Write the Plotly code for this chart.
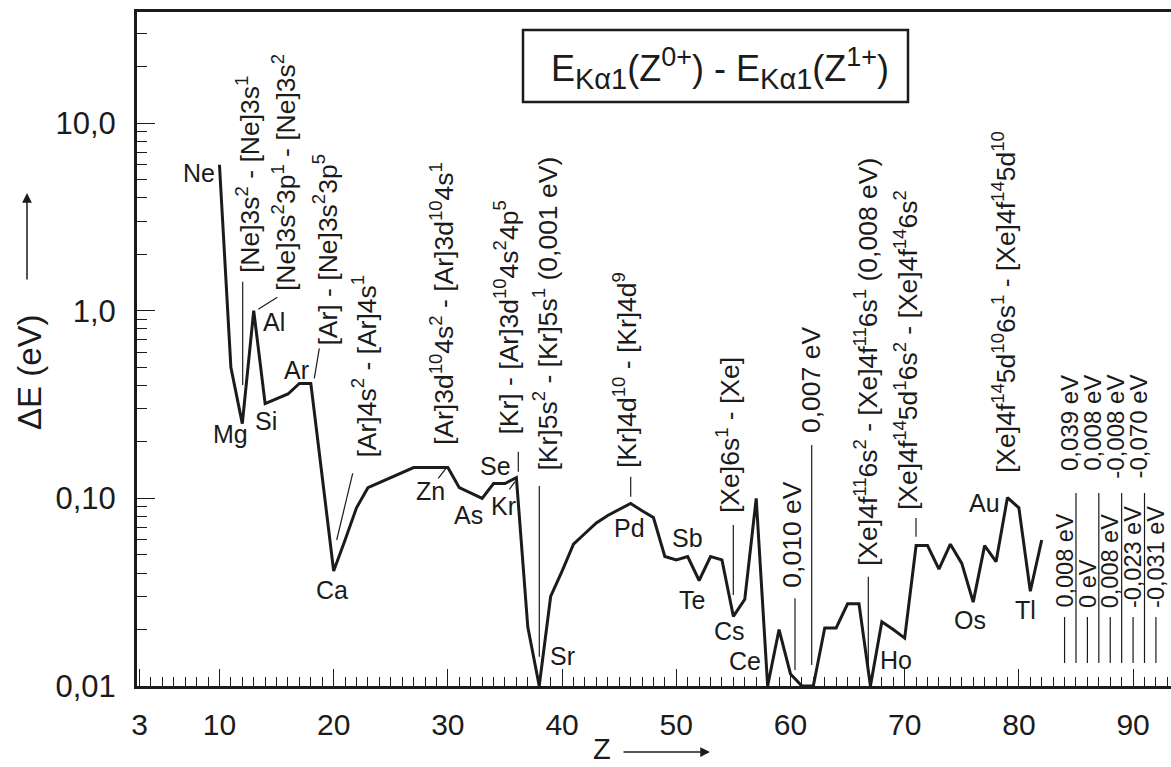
import numpy as np
import plotly.graph_objects as go

# ---------------------------------------------------------------- data
# atomic number and the K-alpha1 shift between neutral atom and 1+ ion (eV)
Z = list(range(10, 83))
dE_eV = [
    6.0, 0.50, 0.25, 1.0, 0.32, 0.34, 0.36, 0.41, 0.41, 0.13,            # 10-19
    0.041, 0.060, 0.089, 0.114, 0.121, 0.129, 0.137, 0.146, 0.146, 0.146,  # 20-29
    0.146, 0.114, 0.107, 0.100, 0.120, 0.120, 0.129, 0.0206, 0.001, 0.030,  # 30-39
    0.041, 0.057, 0.065, 0.074, 0.081, 0.087, 0.094, 0.086, 0.079, 0.049,  # 40-49
    0.047, 0.049, 0.0365, 0.049, 0.047, 0.0235, 0.029, 0.100, 0.010, 0.020,  # 50-59
    0.0116, 0.010, 0.007, 0.0204, 0.0204, 0.0274, 0.0274, 0.008, 0.022, 0.020,  # 60-69
    0.018, 0.056, 0.056, 0.042, 0.057, 0.045, 0.028, 0.056, 0.046, 0.101,  # 70-79
    0.089, 0.032, 0.060,                                                   # 80-82
]

# heavy elements listed only as numbers at the right-hand side
far_Z = [84, 85, 86, 87, 88, 89, 90, 91, 92]
far_dE_eV = [0.008, 0.039, 0.0, 0.008, 0.008, -0.008, -0.023, -0.070, -0.031]

y_tick_vals = [0.01, 0.1, 1.0, 10.0]
y_tick_text = ["0,01", "0,10", "1,0", "10,0"]
x_tick_vals = [3, 10, 20, 30, 40, 50, 60, 70, 80, 90]

Y_FLOOR = 0.01          # lower end of the log axis


def ev(v):
    return "0 eV" if v == 0 else f"{v:.3f}".replace(".", ",") + " eV"


def val(z):
    return dE_eV[Z.index(z)]


# ---------------------------------------------------------------- layout geometry (pixels)
W, H = 1171, 767
L, R, T, B = 137, 1171, 12, 686
X_RANGE = [2.78, 93.32]
Y_RANGE = [-2.0, 1.592]
INK = "#1b1b1b"
FONT = "Liberation Sans, Arial, Helvetica, sans-serif"


def px(x):
    return (x - L) / (R - L)


def py(y):
    return (B - y) / (B - T)


def zx(z):
    """pixel x of an atomic number"""
    return L + (z - X_RANGE[0]) / (X_RANGE[1] - X_RANGE[0]) * (R - L)


fig = go.Figure()
fig.add_trace(go.Scatter(
    x=Z, y=np.maximum(np.array(dE_eV), Y_FLOOR),
    mode="lines", line=dict(color=INK, width=3),
    hoverinfo="skip", showlegend=False,
))

annotations = []
shapes = []

# element symbols next to the curve
element_labels = ["Ne", "Mg", "Si", "Al", "Ar", "Ca", "Zn", "As", "Kr", "Se",
                  "Sr", "Pd", "Sb", "Te", "Cs", "Ce", "Ho", "Os", "Au", "Tl"]
element_label_xy = [(199, 173), (230.5, 434), (266, 420.5), (274, 321.7), (296.7, 370),
                    (331.7, 590), (430.5, 490.5), (468.7, 515.3), (503, 505.7), (495.3, 465.7),
                    (562.7, 655.8), (629, 528.3), (687, 538.3), (691.7, 600), (729, 630.5),
                    (745, 660.5), (895.5, 660), (970, 619.5), (984.7, 503.3), (1025, 610)]
for name, (x, y) in zip(element_labels, element_label_xy):
    annotations.append(dict(
        text=name, x=px(x), y=py(y), xref="paper", yref="paper",
        xanchor="center", yanchor="middle", showarrow=False,
        font=dict(size=25, color=INK, family=FONT)))

# electron configurations of the transitions (vertical text)
config_labels = [
    ("[Ne]3s<sup>2</sup> - [Ne]3s<sup>1</sup>", 247.5, 275),
    ("[Ne]3s<sup>2</sup>3p<sup>1</sup> - [Ne]3s<sup>2</sup>", 283.5, 293),
    ("[Ar] - [Ne]3s<sup>2</sup>3p<sup>5</sup>", 325, 348),
    ("[Ar]4s<sup>2</sup> - [Ar]4s<sup>1</sup>", 364, 460),
    ("[Ar]3d<sup>10</sup>4s<sup>2</sup> - [Ar]3d<sup>10</sup>4s<sup>1</sup>", 441.5, 447),
    ("[Kr] - [Ar]3d<sup>10</sup>4s<sup>2</sup>4p<sup>5</sup>", 506.5, 437),
    ("[Kr]5s<sup>2</sup> - [Kr]5s<sup>1</sup> (" + ev(val(38)) + ")", 545.5, 473),
    ("[Kr]4d<sup>10</sup> - [Kr]4d<sup>9</sup>", 625, 470),
    ("[Xe]6s<sup>1</sup> - [Xe]", 728, 515),
    (ev(val(61)), 791.7, 590),
    (ev(val(62)), 811, 435),
    ("[Xe]4f<sup>11</sup>6s<sup>2</sup> - [Xe]4f<sup>11</sup>6s<sup>1</sup> (" + ev(val(67)) + ")", 866, 568),
    ("[Xe]4f<sup>14</sup>5d<sup>1</sup>6s<sup>2</sup> - [Xe]4f<sup>14</sup>6s<sup>2</sup>", 906, 512),
    ("[Xe]4f<sup>14</sup>5d<sup>10</sup>6s<sup>1</sup> - [Xe]4f<sup>14</sup>5d<sup>10</sup>", 1004, 475),
]
for text, x, y in config_labels:
    annotations.append(dict(
        text=text, x=px(x), y=py(y), xref="paper", yref="paper",
        xanchor="center", yanchor="bottom", textangle=-90, showarrow=False,
        font=dict(size=26.5, color=INK, family=FONT)))

# thin leader lines between labels and the curve
leaders = [
    ((242.7, 281.7), (242.7, 385)),
    ((258.3, 309.3), (277.3, 297.3)),
    ((314.3, 378.3), (319.3, 348.3)),
    ((336.7, 540), (352.7, 473.3)),
    ((438.3, 478.3), (446.7, 467.3)),
    ((509.3, 489.3), (515, 481.7)),
    ((518.3, 451.7), (518.3, 471.7)),
    ((539.3, 486), (539.3, 656.7)),
    ((630.7, 476.7), (630.7, 496.7)),
    ((733.3, 525), (733.3, 595)),
    ((795, 598.3), (795, 670)),
    ((811.7, 445), (811.7, 665)),
    ((868.3, 576.7), (868.3, 673.3)),
    ((916, 518), (916, 536.7)),
]
for (x0, y0), (x1, y1) in leaders:
    shapes.append(dict(type="line", xref="paper", yref="paper",
                       x0=px(x0), y0=py(y0), x1=px(x1), y1=py(y1),
                       line=dict(color=INK, width=1.2)))

# numbers for Z = 84 ... 92, alternating low / high rows
for i, (z, v) in enumerate(zip(far_Z, far_dE_eV)):
    xz = zx(z)
    high = i % 2 == 1
    y_top = 493 if high else 617
    shapes.append(dict(type="line", xref="paper", yref="paper",
                       x0=px(xz), x1=px(xz), y0=py(y_top), y1=py(663),
                       line=dict(color=INK, width=1.2)))
    if high:
        annotations.append(dict(
            text=ev(v), x=px(xz - 7), y=py(373), xref="paper", yref="paper",
            xanchor="center", yanchor="top", textangle=-90, showarrow=False,
            font=dict(size=24, color=INK, family=FONT)))
    else:
        annotations.append(dict(
            text=ev(v), x=px(xz), y=py(610), xref="paper", yref="paper",
            xanchor="center", yanchor="bottom", textangle=-90, showarrow=False,
            font=dict(size=23.5, color=INK, family=FONT)))

# boxed formula
shapes.append(dict(type="rect", xref="paper", yref="paper",
                   x0=px(523), x1=px(908), y0=py(102), y1=py(30),
                   line=dict(color=INK, width=2.5), fillcolor="white"))
SUB = "<sub><span style='font-size:29px'>K\u03b11</span></sub>"
annotations.append(dict(
    text=("E" + SUB + "(Z<sup><span style='font-size:27px'>0+</span></sup>) - "
          "E" + SUB + "(Z<sup><span style='font-size:27px'>1+</span></sup>)"),
    x=px(720), y=py(69), xref="paper", yref="paper",
    xanchor="center", yanchor="middle", showarrow=False,
    font=dict(size=36, color=INK, family=FONT)))

# axis titles with arrows
annotations.append(dict(
    text="\u0394E (eV)", x=px(29), y=py(372), xref="paper", yref="paper",
    xanchor="center", yanchor="middle", textangle=-90, showarrow=False,
    font=dict(size=33, color=INK, family=FONT)))
annotations.append(dict(
    text="", x=px(27), y=py(193), xref="paper", yref="paper",
    showarrow=True, ax=0, ay=88, arrowhead=2, arrowsize=1.3, arrowwidth=1.5,
    arrowcolor=INK))
annotations.append(dict(
    text="Z", x=px(602), y=py(749), xref="paper", yref="paper",
    xanchor="center", yanchor="middle", showarrow=False,
    font=dict(size=29, color=INK, family=FONT)))
annotations.append(dict(
    text="", x=px(710), y=py(752), xref="paper", yref="paper",
    showarrow=True, ax=-88, ay=0, arrowhead=2, arrowsize=1.3, arrowwidth=1.5,
    arrowcolor=INK))

minor_y = [k * 10.0 ** e for e in range(-2, 2) for k in range(2, 10)]

fig.update_layout(
    width=W, height=H,
    margin=dict(l=L, r=W - R, t=T, b=H - B, pad=0),
    paper_bgcolor="white", plot_bgcolor="white",
    showlegend=False,
    font=dict(family=FONT, color=INK),
    annotations=annotations,
    shapes=shapes,
    xaxis=dict(
        range=X_RANGE, tickmode="array", tickvals=x_tick_vals,
        ticks="inside", ticklen=17, tickwidth=1.3, tickcolor=INK,
        showline=True, linewidth=3, linecolor=INK, mirror=True,
        showgrid=False, zeroline=False,
        tickfont=dict(size=30, color=INK, family=FONT),
        ticklabelstandoff=10,
        minor=dict(tickmode="linear", tick0=0, dtick=1, ticks="inside",
                   ticklen=9, tickwidth=1.3, tickcolor=INK, showgrid=False),
    ),
    yaxis=dict(
        type="log", range=Y_RANGE, tickmode="array",
        tickvals=y_tick_vals, ticktext=y_tick_text,
        ticks="inside", ticklen=18, tickwidth=1.3, tickcolor=INK,
        showline=True, linewidth=3, linecolor=INK, mirror=False,
        showgrid=False, zeroline=False,
        tickfont=dict(size=31, color=INK, family=FONT),
        ticklabelstandoff=12,
        minor=dict(tickmode="array", tickvals=minor_y, ticks="inside",
                   ticklen=10, tickwidth=1.3, tickcolor=INK, showgrid=False),
    ),
)

fig.write_html("out.html")
